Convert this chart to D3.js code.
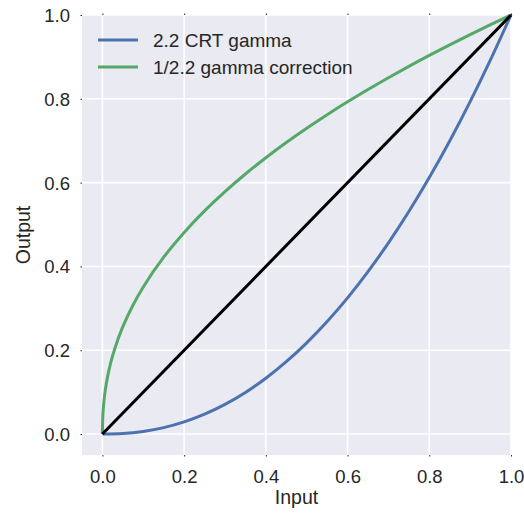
<!DOCTYPE html>
<html><head><meta charset="utf-8">
<script src="https://cdn.jsdelivr.net/npm/d3@7"></script>
<style>body{margin:0;background:#fff}svg{display:block}text{font-family:"Liberation Sans",Arial,sans-serif;fill:#262626}</style>
</head><body><svg id="c" width="524" height="515"></svg>
<script>
const crtX = [0,0.05,0.1,0.15,0.2,0.25,0.3,0.35,0.4,0.45,0.5,0.55,0.6,0.65,0.7,0.75,0.8,0.85,0.9,0.95,1.0];
const crtY = [0,0.0014,0.0063,0.0154,0.029,0.0474,0.0707,0.0993,0.1332,0.1726,0.2176,0.2684,0.325,0.3876,0.4563,0.5311,0.6121,0.6994,0.7931,0.8933,1.0];
const corrX = [0,0.001,0.005,0.01,0.02,0.03,0.05,0.075,0.1,0.15,0.2,0.25,0.3,0.35,0.4,0.45,0.5,0.55,0.6,0.65,0.7,0.75,0.8,0.85,0.9,0.95,1.0];
const corrY = [0,0.0433,0.09,0.1233,0.169,0.2031,0.2562,0.3081,0.3511,0.4222,0.4812,0.5326,0.5785,0.6205,0.6594,0.6956,0.7297,0.7621,0.7928,0.8222,0.8503,0.8774,0.9036,0.9288,0.9532,0.9769,1.0];
const linX = [0,1];
const linY = [0,1];
const xTicks = [0,0.2,0.4,0.6,0.8,1.0];
const yTicks = [0,0.2,0.4,0.6,0.8,1.0];
const seriesNames = ["2.2 CRT gamma","1/2.2 gamma correction"];
const colors = ["#4C72B0","#55A868"];

const svg = d3.select("#c");
const L=82, R=511, T=15, B=455;
const x = d3.scaleLinear().domain([-0.05,1.0]).range([L,R]);
const y = d3.scaleLinear().domain([-0.05,1.0]).range([B,T]);

svg.append("rect").attr("x",L).attr("y",T).attr("width",R-L).attr("height",B-T).attr("fill","#EAEAF2");

const gx = svg.append("g");
xTicks.forEach(t=>{
  gx.append("line").attr("x1",x(t)).attr("x2",x(t)).attr("y1",T).attr("y2",B).attr("stroke","#fff").attr("stroke-width",1.6);
});
yTicks.forEach(t=>{
  gx.append("line").attr("x1",L).attr("x2",R).attr("y1",y(t)).attr("y2",y(t)).attr("stroke","#fff").attr("stroke-width",1.6);
});

const xAxis = d3.axisBottom(x).tickValues(xTicks).tickFormat(d3.format(".1f")).tickSizeInner(1.5).tickSizeOuter(0).tickPadding(13);
const xa = svg.append("g").attr("transform",`translate(0,${B})`).call(xAxis);
const yAxis = d3.axisLeft(y).tickValues(yTicks).tickFormat(d3.format(".1f")).tickSizeInner(1.5).tickSizeOuter(0).tickPadding(10.5);
const ya = svg.append("g").attr("transform",`translate(${L},0)`).call(yAxis);
[xa,ya].forEach(a=>{a.select(".domain").remove(); a.selectAll(".tick line").attr("stroke","#262626").attr("stroke-width",1); a.selectAll("text").attr("font-size",18.5).attr("fill","#262626").style("font-family","Liberation Sans, Arial, sans-serif");});
ya.selectAll("text").attr("dy","0.35em");
const xt = d3.axisTop(x).tickValues(xTicks).tickFormat("").tickSizeInner(1.5).tickSizeOuter(0);
const xta = svg.append("g").attr("transform",`translate(0,${T})`).call(xt);
xta.select(".domain").remove(); xta.selectAll(".tick line").attr("stroke","#262626");

const line = d3.line().x(d=>x(d[0])).y(d=>y(d[1])).curve(d3.curveMonotoneX);
const plot = svg.append("g");
plot.append("path").datum(crtX.map((v,i)=>[v,crtY[i]])).attr("d",line).attr("fill","none").attr("stroke",colors[0]).attr("stroke-width",3);
plot.append("path").datum(corrX.map((v,i)=>[v,corrY[i]])).attr("d",d3.line().x(d=>x(d[0])).y(d=>y(d[1])).curve(d3.curveMonotoneY)).attr("fill","none").attr("stroke",colors[1]).attr("stroke-width",3);
plot.append("path").datum(linX.map((v,i)=>[v,linY[i]])).attr("d",line).attr("fill","none").attr("stroke","#000").attr("stroke-width",3);

const leg = svg.append("g");
seriesNames.forEach((n,i)=>{
  const yy = 40 + i*27;
  leg.append("line").attr("x1",98).attr("x2",138).attr("y1",yy).attr("y2",yy).attr("stroke",colors[i]).attr("stroke-width",3);
  leg.append("text").attr("x",153).attr("y",yy).attr("dy","0.35em").attr("font-size",19).text(n);
});

svg.append("text").attr("x",(L+R)/2).attr("y",504).attr("text-anchor","middle").attr("font-size",19.5).text("Input");
svg.append("text").attr("transform",`translate(30,${(T+B)/2}) rotate(-90)`).attr("text-anchor","middle").attr("font-size",19.5).text("Output");
</script></body></html>
